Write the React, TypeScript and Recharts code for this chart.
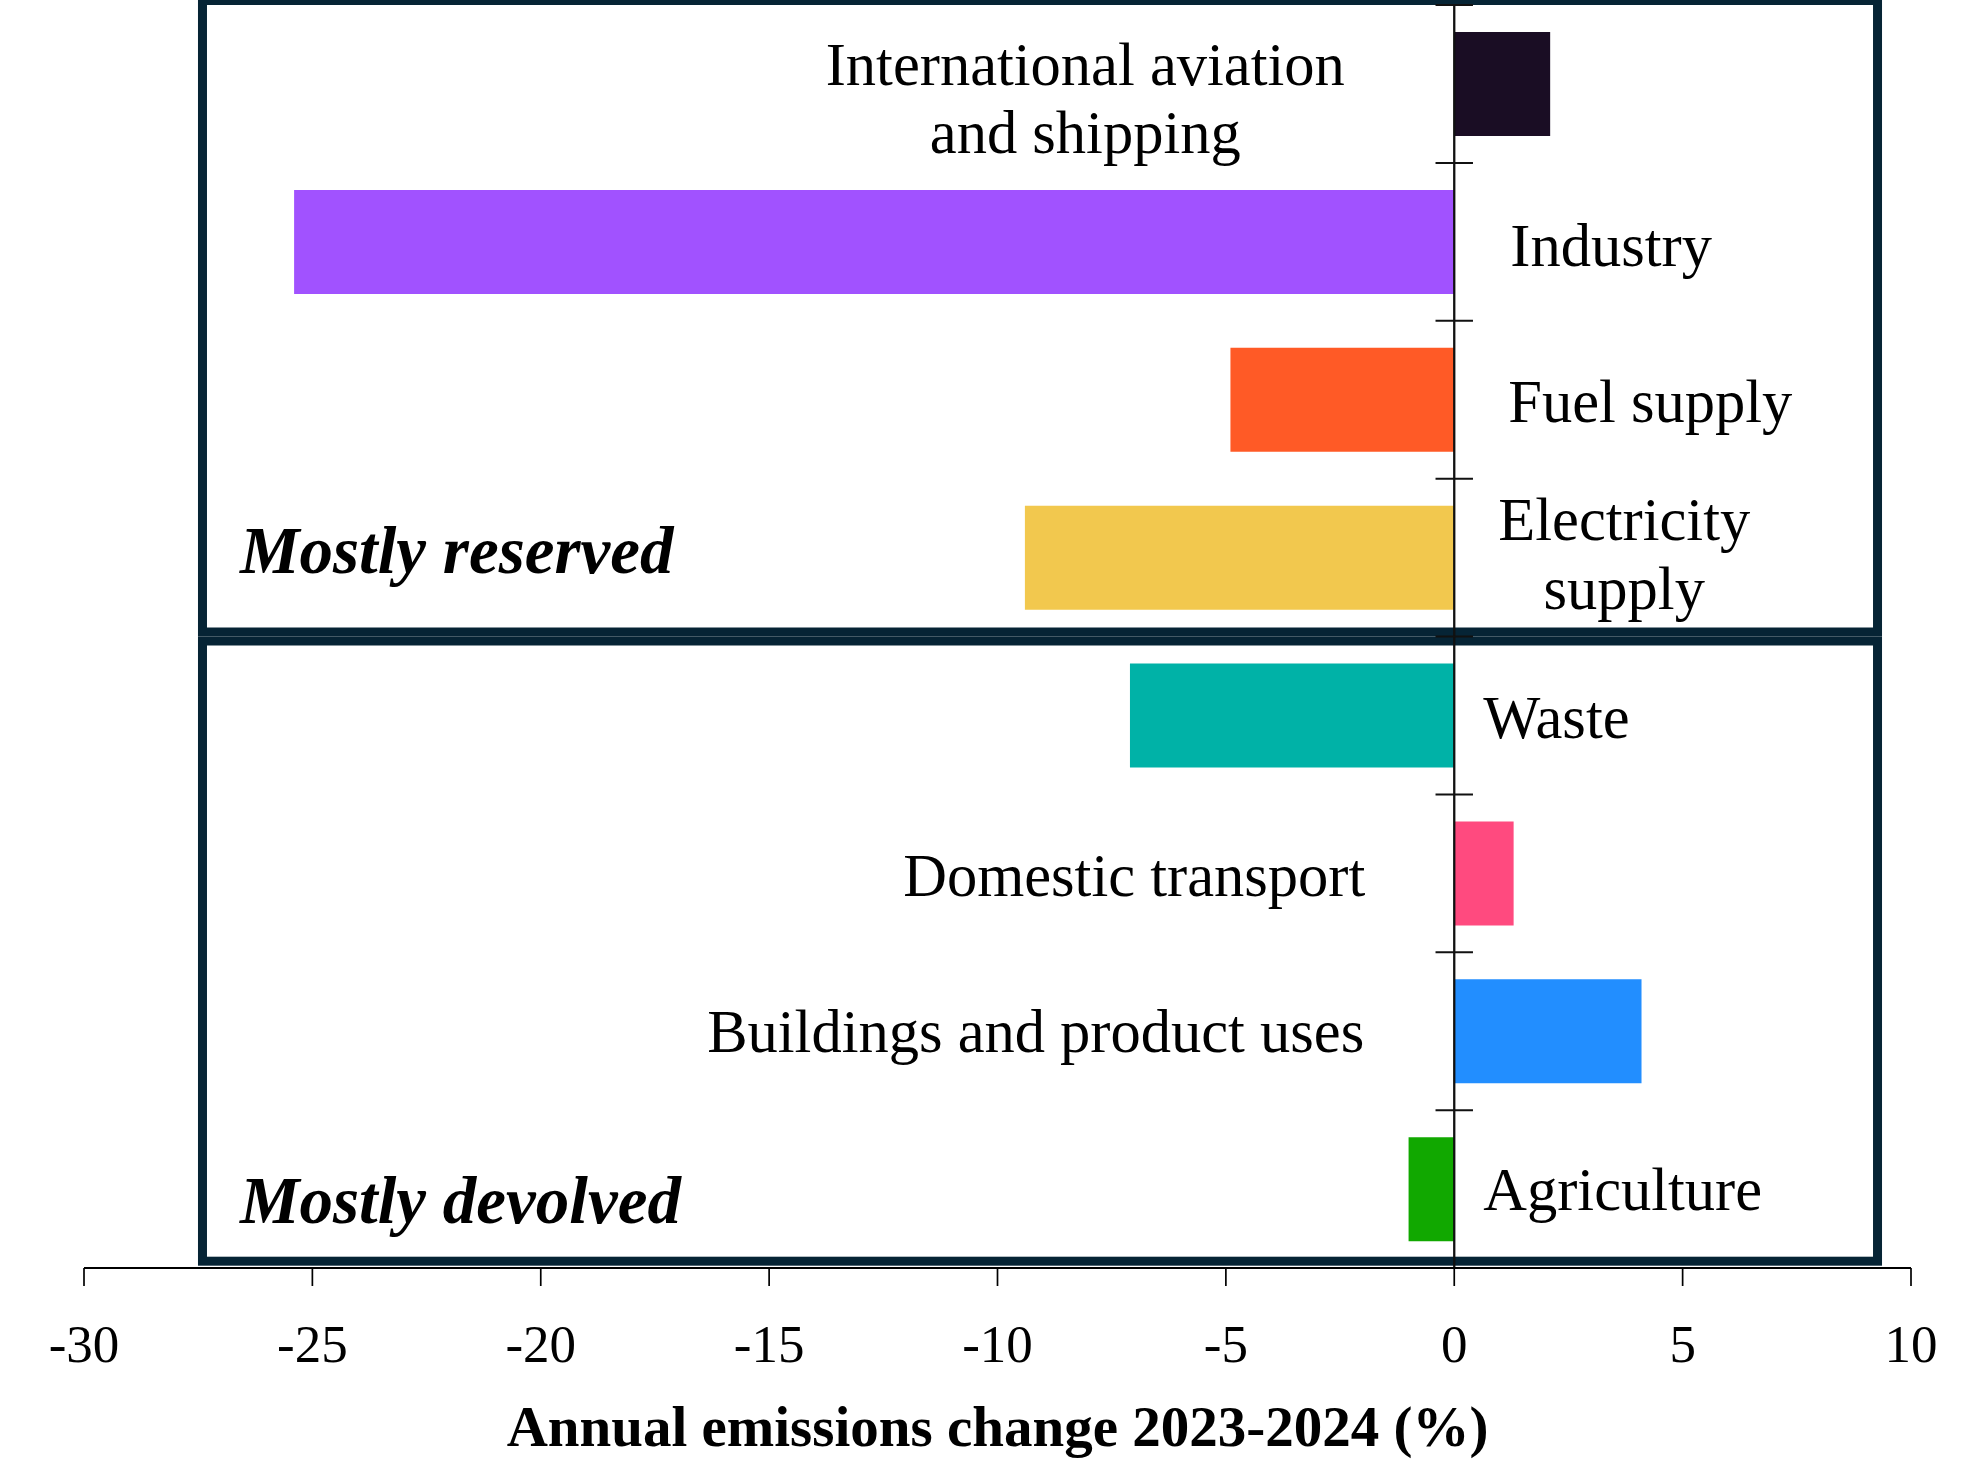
import React from 'react';
import {
  BarChart,
  Bar,
  XAxis,
  YAxis,
  Cell,
  ReferenceLine,
  ReferenceArea,
  LabelList,
} from 'recharts';

// Sectors, top to bottom ("\n" marks a line break in the label)
const sectors = [
  'International aviation\nand shipping',
  'Industry',
  'Fuel supply',
  'Electricity\nsupply',
  'Waste',
  'Domestic transport',
  'Buildings and product uses',
  'Agriculture',
];

// Annual emissions change 2023-2024, in %
const changes = [2.1, -25.4, -4.9, -9.4, -7.1, 1.3, 4.1, -1.0];

const barColours = [
  '#1A0D24',
  '#A152FF',
  '#FF5A26',
  '#F2C84E',
  '#00B2A7',
  '#FF4A7F',
  '#228EFF',
  '#11A800',
];

const xTicks = [-30, -25, -20, -15, -10, -5, 0, 5, 10];

// Group boxes: label plus first and last sector (index) inside the box
const groupNames = ['Mostly reserved', 'Mostly devolved'];
const groupRows: [number, number][] = [
  [0, 3],
  [4, 7],
];

const axisTitle = 'Annual emissions change 2023-2024 (%)';

const data = sectors.map((sector, i) => ({ sector, change: changes[i] }));

// ---- styling -------------------------------------------------------------
const SERIF = '"Liberation Serif", "Times New Roman", serif';
const BOX_COLOUR = '#062435';
const BOX_STROKE = 9;
const INK = '#000000';

const CHART_W = 1976;
const CHART_H = 1476;

// Row label placement relative to the zero line and the band centre
type LabelLayout = { anchor: 'start' | 'middle' | 'end'; dx: number; dys: number[] };
const labelLayout: LabelLayout[] = [
  { anchor: 'middle', dx: -369, dys: [1, 69] },
  { anchor: 'start', dx: 56, dys: [24] },
  { anchor: 'start', dx: 54, dys: [22] },
  { anchor: 'middle', dx: 170, dys: [-18, 51] },
  { anchor: 'start', dx: 29, dys: [22] },
  { anchor: 'end', dx: -89, dys: [23] },
  { anchor: 'end', dx: -90, dys: [21] },
  { anchor: 'start', dx: 29, dys: [21] },
];

// Box stroke offsets (px) from the band edges, so the two boxes sit side by side
const boxEdgeShift: [number, number][] = [
  [-4.5, -4.5],
  [4.5, -6.8],
];
// Baseline of the group annotation above the bottom edge of its box
const groupLabelRise = [59.5, 38];

const SectorLabel = (props: any) => {
  const vb = props.viewBox ?? props;
  const index: number = props.index;
  const x = Number(vb.x ?? props.x);
  const y = Number(vb.y ?? props.y);
  const w = Number(vb.width ?? props.width ?? 0);
  const h = Number(vb.height ?? props.height ?? 0);
  const value = changes[index];
  const zeroX = value < 0 ? Math.max(x, x + w) : Math.min(x, x + w);
  const cy = y + h / 2;
  const layout = labelLayout[index];
  const lines = sectors[index].split('\n');
  return (
    <text textAnchor={layout.anchor} fontFamily={SERIF} fontSize={60.5} fill={INK}>
      {lines.map((line, li) => (
        <tspan key={li} x={zeroX + layout.dx} y={cy + layout.dys[li]}>
          {line}
        </tspan>
      ))}
    </text>
  );
};

const GroupBox = (index: number) => (props: any) => {
  const x = Number(props.x);
  const w = Number(props.width);
  const top = Number(props.y) + boxEdgeShift[index][0];
  const bottom = Number(props.y) + Number(props.height) + boxEdgeShift[index][1];
  return (
    <g>
      <rect
        x={x}
        y={top}
        width={w}
        height={bottom - top}
        fill="none"
        stroke={BOX_COLOUR}
        strokeWidth={BOX_STROKE}
      />
      <text
        x={x + 37.5}
        y={bottom - groupLabelRise[index]}
        fontFamily={SERIF}
        fontSize={67}
        fontWeight="bold"
        fontStyle="italic"
        fill={INK}
      >
        {groupNames[index]}
      </text>
    </g>
  );
};

const AxisTitle = (props: any) => {
  const vb = props.viewBox ?? props;
  return (
    <text
      x={vb.x + vb.width / 2}
      y={vb.y + 178}
      textAnchor="middle"
      fontFamily={SERIF}
      fontSize={57}
      fontWeight="bold"
      fill={INK}
    >
      {axisTitle}
    </text>
  );
};

export default function App() {
  return (
    <div style={{ position: 'absolute', left: 0, top: 0, background: '#fff' }}>
      <BarChart
        width={CHART_W}
        height={CHART_H}
        data={data}
        layout="vertical"
        margin={{ top: 5, right: 65, bottom: 0, left: 84 }}
        barSize={104}
      >
        <XAxis
          type="number"
          domain={[-30, 10]}
          ticks={xTicks}
          interval={0}
          allowDataOverflow
          height={208}
          tickSize={18}
          tickMargin={38}
          axisLine={{ stroke: INK, strokeWidth: 2 }}
          tickLine={{ stroke: INK, strokeWidth: 1.7 }}
          tick={{ fontSize: 53, fill: INK, fontFamily: SERIF }}
          label={<AxisTitle />}
        />
        <YAxis type="category" dataKey="sector" hide />

        <Bar dataKey="change" isAnimationActive={false}>
          {data.map((_, i) => (
            <Cell key={i} fill={barColours[i]} />
          ))}
          <LabelList dataKey="change" content={SectorLabel} />
        </Bar>

        <ReferenceLine x={0} stroke="#111111" strokeWidth={2.3} ifOverflow="visible" />

        {/* tick marks on the zero line at each band edge */}
        {sectors.map((s) => (
          <ReferenceLine
            key={`edge-${s}`}
            segment={[
              { x: -0.41, y: s },
              { x: 0.41, y: s },
            ]}
            position="start"
            stroke="#111111"
            strokeWidth={2}
            ifOverflow="visible"
          />
        ))}
        <ReferenceLine
          segment={[
            { x: -0.41, y: sectors[sectors.length - 1] },
            { x: 0.41, y: sectors[sectors.length - 1] },
          ]}
          position="end"
          stroke="#111111"
          strokeWidth={2}
          ifOverflow="visible"
        />

        {groupRows.map(([from, to], i) => (
          <ReferenceArea
            key={`group-${i}`}
            x1={-27.406}
            x2={9.267}
            y1={sectors[from]}
            y2={sectors[to]}
            ifOverflow="visible"
            shape={GroupBox(i)}
          />
        ))}
      </BarChart>
    </div>
  );
}
